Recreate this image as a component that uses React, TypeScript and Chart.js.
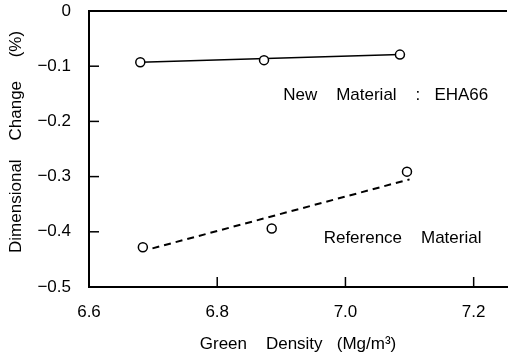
import React, { useEffect, useRef } from "react";
import { Chart, registerables } from "chart.js";

Chart.register(...registerables);

// ---- data ----
const newMaterialX = [6.68, 6.873, 7.085];
const newMaterialY = [-0.093, -0.089, -0.079];
const newFitX = [6.68, 7.085];
const newFitY = [-0.093, -0.079];

const refMaterialX = [6.684, 6.885, 7.096];
const refMaterialY = [-0.428, -0.394, -0.291];
const refFitX = [6.699, 7.1];
const refFitY = [-0.43, -0.305];

const xTickValues = [6.6, 6.8, 7.0, 7.2];
const xTickLabels = ["6.6", "6.8", "7.0", "7.2"];
const yTickValues = [-0.5, -0.4, -0.3, -0.2, -0.1, 0];
const yTickLabels = ["\u22120.5", "\u22120.4", "\u22120.3", "\u22120.2", "\u22120.1", "0"];

const annotations = [
  { text: "New    Material    :   EHA66", x: 6.903, y: -0.152 },
  { text: "Reference    Material", x: 6.966, y: -0.411 },
];

const FONT = "'Liberation Sans', Arial, Helvetica, sans-serif";
const INK = "#000";

const pts = (xs: number[], ys: number[]) => xs.map((x, i) => ({ x, y: ys[i] }));

const framePlugin = {
  id: "frame",
  afterDraw(chart: any) {
    const { ctx, chartArea, scales } = chart;
    const xs = scales.x;
    const ys = scales.y;
    ctx.save();
    ctx.strokeStyle = INK;
    // top border
    ctx.lineWidth = 2;
    ctx.beginPath();
    ctx.moveTo(chartArea.left - 1, chartArea.top);
    ctx.lineTo(chartArea.right, chartArea.top);
    ctx.stroke();
    // inward ticks
    ctx.lineWidth = 1.5;
    const tl = 10;
    xTickValues.slice(1).forEach((v) => {
      const px = xs.getPixelForValue(v);
      ctx.beginPath();
      ctx.moveTo(px, chartArea.bottom);
      ctx.lineTo(px, chartArea.bottom - tl);
      ctx.stroke();
    });
    yTickValues.slice(1, -1).forEach((v) => {
      const py = ys.getPixelForValue(v);
      ctx.beginPath();
      ctx.moveTo(chartArea.left, py);
      ctx.lineTo(chartArea.left + tl, py);
      ctx.stroke();
    });
    // annotations
    ctx.fillStyle = INK;
    ctx.font = `17px ${FONT}`;
    ctx.textAlign = "left";
    ctx.textBaseline = "middle";
    annotations.forEach((a) => {
      ctx.fillText(a.text, xs.getPixelForValue(a.x), ys.getPixelForValue(a.y));
    });
    ctx.restore();
  },
};

export default function App() {
  const ref = useRef<HTMLCanvasElement | null>(null);

  useEffect(() => {
    document.body.style.margin = "0";
    const canvas = ref.current;
    if (!canvas) return;
    const chart = new Chart(canvas, {
      type: "scatter",
      data: {
        datasets: [
          {
            label: "New Material : EHA66",
            data: pts(newMaterialX, newMaterialY),
            pointRadius: 4.5,
            pointBorderWidth: 1.5,
            pointBackgroundColor: "#fff",
            pointBorderColor: INK,
            showLine: false,
          },
          {
            label: "Reference Material",
            data: pts(refMaterialX, refMaterialY),
            pointRadius: 4.5,
            pointBorderWidth: 1.5,
            pointBackgroundColor: "#fff",
            pointBorderColor: INK,
            showLine: false,
          },
          {
            label: "New fit",
            data: pts(newFitX, newFitY),
            showLine: true,
            pointRadius: 0,
            borderColor: INK,
            borderWidth: 1.5,
          },
          {
            label: "Reference fit",
            data: pts(refFitX, refFitY),
            showLine: true,
            pointRadius: 0,
            borderColor: INK,
            borderWidth: 2,
            borderDash: [7, 5],
          },
        ],
      },
      options: {
        responsive: false,
        animation: false,
        devicePixelRatio: 1,
        layout: { padding: { top: 11, right: 0, left: 0, bottom: 0 } },
        plugins: {
          legend: { display: false },
          tooltip: { enabled: false },
        },
        scales: {
          x: {
            type: "linear",
            min: 6.6,
            max: 7.252,
            afterBuildTicks: (scale: any) => {
              scale.ticks = xTickValues.map((v) => ({ value: v }));
            },
            afterFit: (scale: any) => {
              scale.height = 69;
            },
            grid: { display: false, drawTicks: false },
            border: { display: true, color: INK, width: 2 },
            ticks: {
              color: INK,
              font: { family: FONT, size: 17 },
              padding: 15,
              maxRotation: 0,
              callback: (v: any) => {
                const i = xTickValues.findIndex((t) => Math.abs(t - Number(v)) < 1e-6);
                return i >= 0 ? xTickLabels[i] : "";
              },
            },
            title: {
              display: true,
              text: "Green    Density   (Mg/m\u00B3)",
              color: INK,
              font: { family: FONT, size: 17 },
              padding: { top: 0, bottom: 1 },
            },
          },
          y: {
            type: "linear",
            min: -0.5,
            max: 0,
            afterBuildTicks: (scale: any) => {
              scale.ticks = yTickValues.map((v) => ({ value: v }));
            },
            afterFit: (scale: any) => {
              scale.width = 89;
              scale.paddingTop = 0;
              scale.paddingBottom = 0;
            },
            grid: { display: false, drawTicks: false },
            border: { display: true, color: INK, width: 2 },
            ticks: {
              color: INK,
              font: { family: FONT, size: 17 },
              padding: 18,
              callback: (v: any) => {
                const i = yTickValues.findIndex((t) => Math.abs(t - Number(v)) < 1e-6);
                return i >= 0 ? yTickLabels[i] : "";
              },
            },
            title: {
              display: true,
              text: "   Dimensional    Change     (%)",
              color: INK,
              font: { family: FONT, size: 17 },
              padding: { top: 6, bottom: 0 },
            },
          },
        },
      },
      plugins: [framePlugin],
    });
    return () => chart.destroy();
  }, []);

  return (
    <div style={{ position: "fixed", left: 0, top: 0, width: 513, height: 356, background: "#fff" }}>
      <canvas ref={ref} width={513} height={356} style={{ display: "block" }} />
    </div>
  );
}
